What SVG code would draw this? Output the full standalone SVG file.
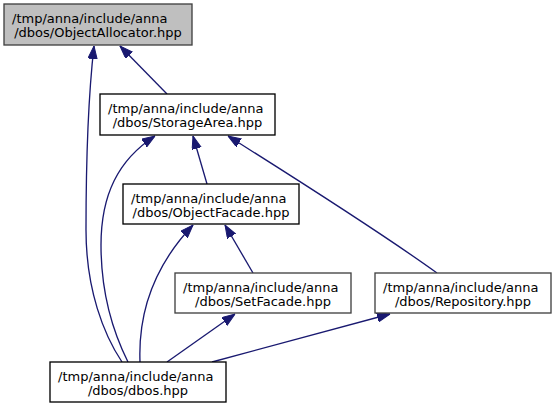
<svg xmlns="http://www.w3.org/2000/svg" width="555" height="409" viewBox="0 0 555 409">
<style>
.box{fill:#ffffff;stroke:#000000;stroke-width:1.33}
.boxg{fill:#ffffff;stroke:#404040;stroke-width:1.33}
.root{fill:#bfbfbf;stroke:#404040;stroke-width:1.33}
text{font-family:"DejaVu Sans","Liberation Sans",sans-serif;font-size:13px;fill:#000000}
.m{text-anchor:middle}
.e{fill:none;stroke:#191970;stroke-width:1.33;marker-end:url(#ah)}
</style>
<defs>
<marker id="ah" markerUnits="userSpaceOnUse" markerWidth="13" markerHeight="10" refX="13" refY="4.7" orient="auto">
<path d="M0,0 L13,4.7 L0,9.4 z" fill="#191970" stroke="#191970" stroke-width="1"/>
</marker>
</defs>
<rect width="555" height="409" fill="#ffffff"/>
<g id="edges">
<path class="e" d="M167,94 L120,46"/>
<path class="e" d="M122,362 C104,335 86,290 86,230 C86,160 89,90 94,46"/>
<path class="e" d="M128,362 C112,330 101,290 101,245 C101,195 118,160 155,136"/>
<path class="e" d="M207,184 L193,136"/>
<path class="e" d="M437,273 C380,232 290,175 228,136"/>
<path class="e" d="M253,273 L225,225"/>
<path class="e" d="M140,362 C138,310 155,265 193,225"/>
<path class="e" d="M167,362 L235,314"/>
<path class="e" d="M212,362 L390,314"/>
</g>
<g id="ObjectAllocator">
<rect class="root" x="4" y="4" width="188" height="41"/>
<text x="12" y="23">/tmp/anna/include/anna</text>
<text class="m" x="98" y="37">/dbos/ObjectAllocator.hpp</text>
</g>
<g id="StorageArea">
<rect class="box" x="100" y="94" width="175" height="41"/>
<text x="108" y="113">/tmp/anna/include/anna</text>
<text class="m" x="187.5" y="127">/dbos/StorageArea.hpp</text>
</g>
<g id="ObjectFacade">
<rect class="box" x="123" y="184" width="176" height="40"/>
<text x="131" y="203">/tmp/anna/include/anna</text>
<text class="m" x="211" y="217">/dbos/ObjectFacade.hpp</text>
</g>
<g id="SetFacade">
<rect class="boxg" x="175" y="273" width="176" height="40"/>
<text x="183" y="292">/tmp/anna/include/anna</text>
<text class="m" x="263" y="306">/dbos/SetFacade.hpp</text>
</g>
<g id="Repository">
<rect class="boxg" x="375" y="273" width="176" height="40"/>
<text x="383" y="292">/tmp/anna/include/anna</text>
<text class="m" x="463" y="306">/dbos/Repository.hpp</text>
</g>
<g id="dbos">
<rect class="box" x="50" y="362" width="176" height="40"/>
<text x="58" y="381">/tmp/anna/include/anna</text>
<text class="m" x="138" y="395">/dbos/dbos.hpp</text>
</g>
</svg>
